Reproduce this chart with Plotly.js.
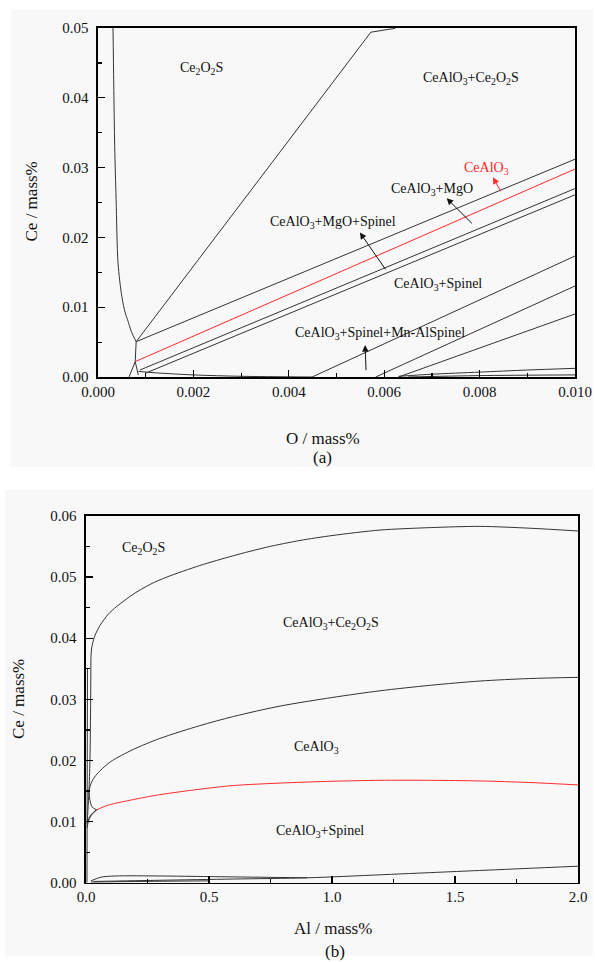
<!DOCTYPE html>
<html>
<head>
<meta charset="utf-8">
<script src="https://cdn.plot.ly/plotly-3.0.1.min.js"></script>
<style>html,body{margin:0;padding:0;background:#fff;}#chart{width:595px;height:962px;}</style>
</head>
<body>
<div id="chart"></div>
<script>
// ---------- Panel (a): Ce vs O ----------
const aLeftX = [0.000315, 0.00033, 0.00035, 0.00038, 0.00042, 0.00050, 0.00057, 0.00062, 0.00070, 0.00080];
const aLeftY = [0.05, 0.042, 0.033, 0.0254, 0.0163, 0.0115, 0.0092, 0.0082, 0.0065, 0.00506];
const aStemX = [0.00080, 0.00078, 0.00065];
const aStemY = [0.00506, 0.0022, 0.0];
const aBranchX = [0.00078, 0.000845];
const aBranchY = [0.0022, 0.0003];
const aDiagX = [0.0008, 0.00572, 0.00623];
const aDiagY = [0.00506, 0.0494, 0.04995];
const aMgoUpperX = [0.0008, 0.010];
const aMgoUpperY = [0.00506, 0.0312];
const aRedX = [0.00078, 0.010];
const aRedY = [0.0022, 0.0298];
const aLower1X = [0.00088, 0.010];
const aLower1Y = [0.0010, 0.0270];
const aLower2X = [0.00099, 0.010];
const aLower2Y = [0.00053, 0.0261];
const aFootX = [0.00085, 0.0012, 0.002, 0.003, 0.0045];
const aFootY = [0.0008, 0.0006, 0.0003, 0.0001, 0.0];
const aSp1X = [0.00449, 0.010];
const aSp1Y = [0.0, 0.01734];
const aSp2X = [0.00582, 0.010];
const aSp2Y = [0.0, 0.01304];
const aSp3X = [0.0063, 0.010];
const aSp3Y = [0.0, 0.00903];
const aBot1X = [0.0063, 0.007, 0.008, 0.009, 0.010];
const aBot1Y = [0.0001, 0.0004, 0.0007, 0.0010, 0.00124];
const aBot2X = [0.0065, 0.008, 0.010];
const aBot2Y = [0.0, 0.0002, 0.0003];

// ---------- Panel (b): Ce vs Al ----------
const bTopX = [0.02, 0.023, 0.035, 0.057, 0.09, 0.125, 0.192, 0.26, 0.328, 0.463, 0.599, 0.735, 0.87, 1.0, 1.195, 1.4, 1.602, 1.805, 2.0];
const bTopY = [0.0367, 0.0384, 0.0403, 0.0421, 0.0439, 0.0452, 0.0472, 0.0488, 0.0500, 0.0519, 0.0535, 0.0549, 0.0560, 0.0568, 0.0577, 0.0581, 0.0583, 0.0580, 0.05755];
const bMidX = [0.012, 0.02, 0.035, 0.057, 0.1, 0.192, 0.3, 0.463, 0.6, 0.789, 1.0, 1.195, 1.4, 1.602, 1.8, 2.0];
const bMidY = [0.0150, 0.0162, 0.0173, 0.0183, 0.0198, 0.0218, 0.0236, 0.0257, 0.0272, 0.0289, 0.0303, 0.0314, 0.0323, 0.0330, 0.0334, 0.0336];
const bHookX = [0.012, 0.016, 0.025, 0.043];
const bHookY = [0.0150, 0.0135, 0.0124, 0.0119];
const bRedX = [0.043, 0.07, 0.1, 0.192, 0.3, 0.463, 0.6, 0.789, 1.0, 1.195, 1.4, 1.602, 1.8, 2.0];
const bRedY = [0.0119, 0.0124, 0.0128, 0.0136, 0.0144, 0.0153, 0.0159, 0.0163, 0.0166, 0.01675, 0.01675, 0.01665, 0.0164, 0.0160];
const bSmall1X = [0.005, 0.015, 0.03, 0.043];
const bSmall1Y = [0.0097, 0.0108, 0.0115, 0.0119];
const bSmall2X = [0.004, 0.012, 0.025, 0.043];
const bSmall2Y = [0.0090, 0.0103, 0.0112, 0.0119];
const bVert1X = [0.02, 0.019, 0.016, 0.012, 0.008, 0.005];
const bVert1Y = [0.0367, 0.03, 0.02, 0.015, 0.012, 0.0097];
const bVert2X = [0.006, 0.006, 0.005, 0.004];
const bVert2Y = [0.035, 0.025, 0.015, 0.0];
const bBase1X = [0.03, 0.3, 0.6, 0.9, 1.2, 1.6, 2.0];
const bBase1Y = [0.0002, 0.0004, 0.0006, 0.0008, 0.0013, 0.0020, 0.0027];
const bBase2X = [0.02, 0.06, 0.12, 0.3, 0.5, 0.7, 0.9];
const bBase2Y = [0.0003, 0.0009, 0.0011, 0.0011, 0.0010, 0.0009, 0.0008];
const bBase3X = [0.02, 0.2, 0.5];
const bBase3Y = [0.0001, 0.0002, 0.0003];

// ---------- Labels ----------
const aLabels = ['Ce<sub>2</sub>O<sub>2</sub>S', 'CeAlO<sub>3</sub>+Ce<sub>2</sub>O<sub>2</sub>S', 'CeAlO<sub>3</sub>', 'CeAlO<sub>3</sub>+MgO', 'CeAlO<sub>3</sub>+MgO+Spinel', 'CeAlO<sub>3</sub>+Spinel', 'CeAlO<sub>3</sub>+Spinel+Mn-AlSpinel'];
const aLabelX = [0.00217, 0.00783, 0.00815, 0.0070, 0.00492, 0.00713, 0.00591];
const aLabelY = [0.0442, 0.0428, 0.0299, 0.0268, 0.0222, 0.0133, 0.0062];
const bLabels = ['Ce<sub>2</sub>O<sub>2</sub>S', 'CeAlO<sub>3</sub>+Ce<sub>2</sub>O<sub>2</sub>S', 'CeAlO<sub>3</sub>', 'CeAlO<sub>3</sub>+Spinel'];
const bLabelX = [0.233, 0.996, 0.938, 0.951];
const bLabelY = [0.0547, 0.0424, 0.0222, 0.0083];
// arrows: tail -> head
const aArrowTailX = [0.00846, 0.00787, 0.00605, 0.00562];
const aArrowTailY = [0.0264, 0.0218, 0.0152, 0.00076];
const aArrowHeadX = [0.00828, 0.00731, 0.00549, 0.00560];
const aArrowHeadY = [0.0286, 0.0256, 0.0207, 0.00458];

const FONT = '"Liberation Serif", "Times New Roman", Times, serif';
const GREY = '#333333';
const RED = '#ff2a2a';

function line(x, y, color, xa, ya, smooth) {
  return {x: x, y: y, type: 'scatter', mode: 'lines', xaxis: xa, yaxis: ya,
          line: {color: color, width: 1, shape: smooth ? 'spline' : 'linear', smoothing: 0.8},
          hoverinfo: 'skip', showlegend: false};
}

const traces = [
  line(aLeftX, aLeftY, GREY, 'x', 'y', true),
  line(aStemX, aStemY, GREY, 'x', 'y'),
  line(aBranchX, aBranchY, GREY, 'x', 'y'),
  line(aDiagX, aDiagY, GREY, 'x', 'y'),
  line(aMgoUpperX, aMgoUpperY, GREY, 'x', 'y'),
  line(aRedX, aRedY, RED, 'x', 'y'),
  line(aLower1X, aLower1Y, GREY, 'x', 'y'),
  line(aLower2X, aLower2Y, GREY, 'x', 'y'),
  line(aFootX, aFootY, GREY, 'x', 'y', true),
  line(aSp1X, aSp1Y, GREY, 'x', 'y'),
  line(aSp2X, aSp2Y, GREY, 'x', 'y'),
  line(aSp3X, aSp3Y, GREY, 'x', 'y'),
  line(aBot1X, aBot1Y, GREY, 'x', 'y', true),
  line(aBot2X, aBot2Y, GREY, 'x', 'y', true),
  line(bTopX, bTopY, GREY, 'x2', 'y2', true),
  line(bMidX, bMidY, GREY, 'x2', 'y2', true),
  line(bHookX, bHookY, GREY, 'x2', 'y2', true),
  line(bRedX, bRedY, RED, 'x2', 'y2', true),
  line(bSmall1X, bSmall1Y, GREY, 'x2', 'y2', true),
  line(bSmall2X, bSmall2Y, GREY, 'x2', 'y2', true),
  line(bVert1X, bVert1Y, GREY, 'x2', 'y2', true),
  line(bVert2X, bVert2Y, GREY, 'x2', 'y2'),
  line(bBase1X, bBase1Y, GREY, 'x2', 'y2', true),
  line(bBase2X, bBase2Y, GREY, 'x2', 'y2', true),
  line(bBase3X, bBase3Y, GREY, 'x2', 'y2', true)
];

const annotations = [];
aLabels.forEach(function (t, i) {
  annotations.push({x: aLabelX[i], y: aLabelY[i], xref: 'x', yref: 'y', text: t, showarrow: false,
    xanchor: 'center', yanchor: 'middle',
    font: {family: FONT, size: 14, color: i === 2 ? RED : '#111'}});
});
bLabels.forEach(function (t, i) {
  annotations.push({x: bLabelX[i], y: bLabelY[i], xref: 'x2', yref: 'y2', text: t, showarrow: false,
    xanchor: 'center', yanchor: 'middle',
    font: {family: FONT, size: 14, color: '#111'}});
});
aArrowHeadX.forEach(function (hx, i) {
  annotations.push({x: hx, y: aArrowHeadY[i], ax: aArrowTailX[i], ay: aArrowTailY[i],
    xref: 'x', yref: 'y', axref: 'x', ayref: 'y', text: '', showarrow: true,
    arrowhead: 2, arrowsize: 1.3, arrowwidth: 1, arrowcolor: i === 0 ? RED : '#111'});
});
function caption(px, py, text, angle) {
  annotations.push({xref: 'paper', yref: 'paper', x: px / 595, y: 1 - py / 962, text: text,
    textangle: angle || 0, xanchor: 'center', yanchor: 'middle',
    showarrow: false, font: {family: FONT, size: 17, color: '#111'}});
}
caption(31.5, 202, 'Ce / mass%', -90);
caption(322.5, 438, 'O / mass%');
caption(322.5, 457.5, '(a)');
caption(18, 699, 'Ce / mass%', -90);
caption(333, 928, 'Al / mass%');
caption(335, 951.5, '(b)');

function axis(extra) {
  return Object.assign({
    showgrid: false, zeroline: false, showline: true, linecolor: '#000', linewidth: 1.6, mirror: true,
    ticks: 'inside', ticklen: 7, tickwidth: 1.3, tickcolor: '#000',
    tickfont: {family: FONT, size: 15, color: '#111'}
  }, extra);
}

const layout = {
  width: 595, height: 962,
  margin: {l: 0, r: 0, t: 0, b: 0},
  paper_bgcolor: '#ffffff', plot_bgcolor: 'rgba(0,0,0,0)',
  showlegend: false,
  font: {family: FONT},
  xaxis: axis({domain: [98 / 595, 575 / 595], anchor: 'y', range: [0, 0.010], dtick: 0.002, tick0: 0, tickformat: '.3f',
    ticklabelstandoff: 0,
    minor: {ticks: 'inside', ticklen: 4, dtick: 0.001, tickcolor: '#000', tickwidth: 1.2}}),
  yaxis: axis({domain: [1 - 377 / 962, 1 - 28 / 962], anchor: 'x', range: [0, 0.05], dtick: 0.01, tick0: 0, tickformat: '.2f',
    ticklabelstandoff: 5,
    minor: {ticks: 'inside', ticklen: 4, dtick: 0.005, tickcolor: '#000', tickwidth: 1.2}}),
  xaxis2: axis({domain: [86 / 595, 578 / 595], anchor: 'y2', range: [0, 2.0], dtick: 0.5, tick0: 0, tickformat: '.1f',
    ticklabelstandoff: 0,
    minor: {ticks: 'inside', ticklen: 4, dtick: 0.25, tickcolor: '#000', tickwidth: 1.2}}),
  yaxis2: axis({domain: [1 - 882.7 / 962, 1 - 516 / 962], anchor: 'x2', range: [0, 0.06], dtick: 0.01, tick0: 0, tickformat: '.2f',
    ticklabelstandoff: 5,
    minor: {ticks: 'inside', ticklen: 4, dtick: 0.005, tickcolor: '#000', tickwidth: 1.2}}),
  shapes: [
    {type: 'rect', xref: 'paper', yref: 'paper', x0: 11 / 595, x1: 593 / 595, y0: 1 - 467 / 962, y1: 1 - 10 / 962,
     fillcolor: '#f8f8f8', line: {width: 0}, layer: 'below'},
    {type: 'rect', xref: 'paper', yref: 'paper', x0: 5 / 595, x1: 593 / 595, y0: 1 - 956 / 962, y1: 1 - 490 / 962,
     fillcolor: '#f8f8f8', line: {width: 0}, layer: 'below'}
  ],
  annotations: annotations
};

Plotly.newPlot('chart', traces, layout, {staticPlot: true, displayModeBar: false});
</script>
</body>
</html>
